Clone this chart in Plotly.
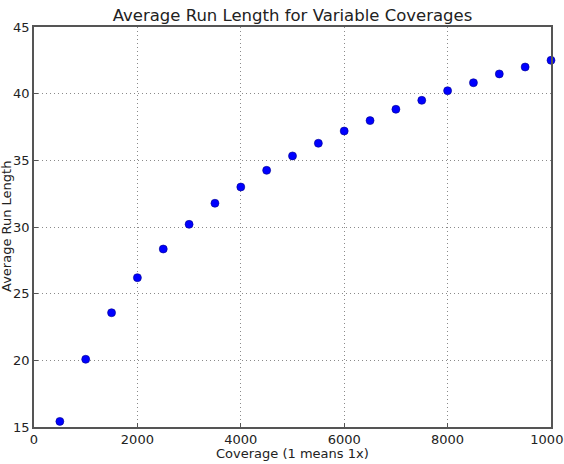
import plotly.graph_objects as go

coverage = [500, 1000, 1500, 2000, 2500, 3000, 3500, 4000, 4500, 5000,
            5500, 6000, 6500, 7000, 7500, 8000, 8500, 9000, 9500, 10000]
avg_run_length = [15.42, 20.08, 23.57, 26.2, 28.35, 30.2, 31.78, 33.0, 34.25, 35.33,
                  36.28, 37.2, 37.98, 38.83, 39.5, 40.22, 40.82, 41.48, 42.0, 42.5]
x_ticks = [0, 2000, 4000, 6000, 8000, 10000]
y_ticks = [15, 20, 25, 30, 35, 40, 45]

FONT = "DejaVu Sans"

fig = go.Figure()
fig.add_trace(go.Scatter(
    x=coverage, y=avg_run_length, mode="markers",
    marker=dict(symbol="circle", size=8, color="#0000ff",
                line=dict(color="#00008b", width=0.6)),
    cliponaxis=False, showlegend=False,
))

axis_common = dict(
    showline=True, mirror=True, linecolor="#555555", linewidth=1.5,
    showgrid=True, gridcolor="#8a8a8a", griddash="1px,3px", gridwidth=1,
    ticks="inside", ticklen=4, tickcolor="#555555", tickwidth=1,
    zeroline=False, automargin=False, ticklabeloverflow="allow",
    tickfont=dict(family=FONT, size=13, color="#222222"),
)

fig.update_layout(
    width=564, height=464,
    margin=dict(l=34, r=13, t=27, b=37),
    paper_bgcolor="white", plot_bgcolor="white",
    font=dict(family=FONT, color="#222222"),
    title=dict(text="Average Run Length for Variable Coverages",
               x=0.5, xref="paper", xanchor="center",
               y=(464 - 15) / 464, yref="container", yanchor="middle",
               font=dict(family=FONT, size=16.5, color="#222222")),
    xaxis=dict(range=[0, 10000], tickvals=x_ticks,
               ticktext=[str(v) for v in x_ticks], **axis_common),
    yaxis=dict(range=[15, 45], tickvals=y_ticks,
               ticktext=[str(v) for v in y_ticks], **axis_common),
    annotations=[
        dict(text="Coverage (1 means 1x)", xref="paper", yref="paper",
             x=0.5, y=0, yshift=-26, xanchor="center", yanchor="middle",
             showarrow=False, font=dict(family=FONT, size=13, color="#222222")),
        dict(text="Average Run Length", xref="paper", yref="paper",
             x=0, xshift=-28, y=0.5, xanchor="center", yanchor="middle",
             textangle=-90, showarrow=False,
             font=dict(family=FONT, size=13, color="#222222")),
    ],
)

fig.write_html("out.html")
